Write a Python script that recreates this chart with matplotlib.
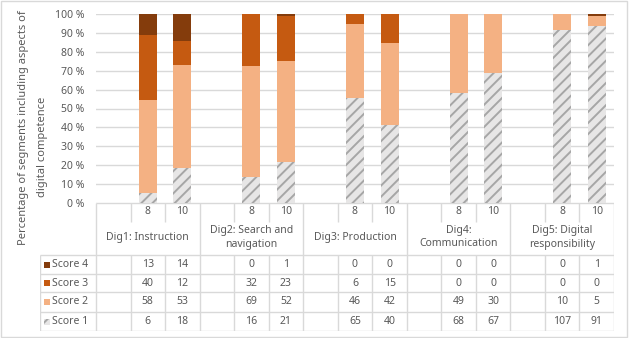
import numpy as np
import matplotlib
matplotlib.use("Agg")
import matplotlib.pyplot as plt
from matplotlib.patches import Rectangle

plt.rcParams['font.family'] = ['Noto Sans', 'DejaVu Sans']
plt.rcParams['hatch.linewidth'] = 1.4
plt.rcParams['hatch.color'] = '#A6A6A6'

groups = ["Dig1: Instruction", "Dig2: Search and\nnavigation", "Dig3: Production",
          "Dig4:\nCommunication", "Dig5: Digital\nresponsibility"]
grades = ["8", "10"]
series = ["Score 4", "Score 3", "Score 2", "Score 1"]

score4 = [13, 14, 0, 1, 0, 0, 0, 0, 0, 1]
score3 = [40, 12, 32, 23, 6, 15, 0, 0, 0, 0]
score2 = [58, 53, 69, 52, 46, 42, 49, 30, 10, 5]
score1 = [6, 18, 16, 21, 65, 40, 68, 67, 107, 91]

colors = {"Score 4": "#843C0C", "Score 3": "#C55A11", "Score 2": "#F4B183", "Score 1": "#E7E6E6"}
hatches = {"Score 4": None, "Score 3": None, "Score 2": None, "Score 1": "///"}
text_col = "#595959"
line_col = "#D9D9D9"
fs = 7.5

counts = {"Score 4": np.array(score4), "Score 3": np.array(score3),
          "Score 2": np.array(score2), "Score 1": np.array(score1)}
totals = sum(counts.values())

# each group has an empty slot then the two grades
slots = np.array([3 * g + 1 + k for g in range(len(groups)) for k in range(2)])

W, H = 629, 338
fig = plt.figure(figsize=(W / 100, H / 100), dpi=100)

def fx(px):
    return px / W

def fy(py):
    return 1 - py / H

ax = fig.add_axes([fx(96), fy(202.7), fx(614 - 96), (202.7 - 14.3) / H])
bottom = np.zeros(len(slots))
for s in ["Score 1", "Score 2", "Score 3", "Score 4"]:
    pct = counts[s] / totals * 100
    ax.bar(slots, pct, width=0.52, bottom=bottom, color=colors[s], hatch=hatches[s],
           edgecolor=colors[s] if hatches[s] is None else '#A6A6A6', linewidth=0, zorder=2)
    bottom += pct

ax.set_xlim(-0.5, 14.5)
ax.set_ylim(0, 100)
ax.set_yticks(np.arange(0, 101, 10))
ax.set_yticklabels([f"{v} %" for v in range(0, 101, 10)])
ax.tick_params(axis='y', length=0, pad=8.5, labelsize=fs, labelcolor=text_col)
ax.set_xticks([])
ax.grid(axis='y', color=line_col, linewidth=1, zorder=0)
for sp in ax.spines.values():
    sp.set_visible(False)

# data table below the bars
left_px = 40
unit = (614 - 96) / 15
x0 = -0.5 - (96 - left_px) / unit
tb = fig.add_axes([fx(left_px), fy(331), fx(614 - left_px), (331 - 202.7) / H])
tb.set_xlim(x0, 14.5)
tb.set_ylim(331, 202.7)
tb.axis('off')

lk = dict(color=line_col, linewidth=1, solid_capstyle='butt')
tb.plot([-0.5, 14.5], [202.7, 202.7], **lk)
row_edges = [255, 274, 292, 312, 331]
for y in row_edges:
    tb.plot([x0, 14.5], [y, y], **lk)
tb.plot([x0, x0], [255, 331], **lk)
for b in np.arange(-0.5, 15, 1):
    if (b + 0.5) % 3 == 0:
        tb.plot([b, b], [202.7, 331], **lk)
    else:
        tb.plot([b, b], [202.7, 222], **lk)
        tb.plot([b, b], [255, 331], **lk)

for i, x in enumerate(slots):
    tb.text(x, 212, grades[i % 2], ha='center', va='center', fontsize=fs, color=text_col)
for g, name in enumerate(groups):
    tb.text(3 * g + 1, 237.5, name, ha='center', va='center', fontsize=fs,
            color=text_col, linespacing=1.25)

for r, s in enumerate(series):
    yc = (row_edges[r] + row_edges[r + 1]) / 2
    tb.add_patch(Rectangle((x0 + 4 / unit, yc - 3), 6 / unit, 6, facecolor=colors[s],
                           hatch=hatches[s], edgecolor='#A6A6A6' if hatches[s] else colors[s],
                           linewidth=0, clip_on=False))
    tb.text(x0 + 12 / unit, yc, s, ha='left', va='center', fontsize=fs, color=text_col)
    for i, x in enumerate(slots):
        tb.text(x, yc, str(counts[s][i]), ha='center', va='center', fontsize=fs, color=text_col)

fig.text(fx(24), fy(128), "Percentage of segments including aspects of", rotation=90,
         ha='center', va='center', fontsize=fs + 0.5, color=text_col)
fig.text(fx(43), fy(147), "digital competence", rotation=90,
         ha='center', va='center', fontsize=fs + 0.5, color=text_col)

fig.patches.append(Rectangle((fx(1), fy(336.5)), fx(626), (335.5) / H, transform=fig.transFigure,
                             fill=False, edgecolor=line_col, linewidth=1))

fig.savefig("out.png", dpi=100, facecolor='white')
